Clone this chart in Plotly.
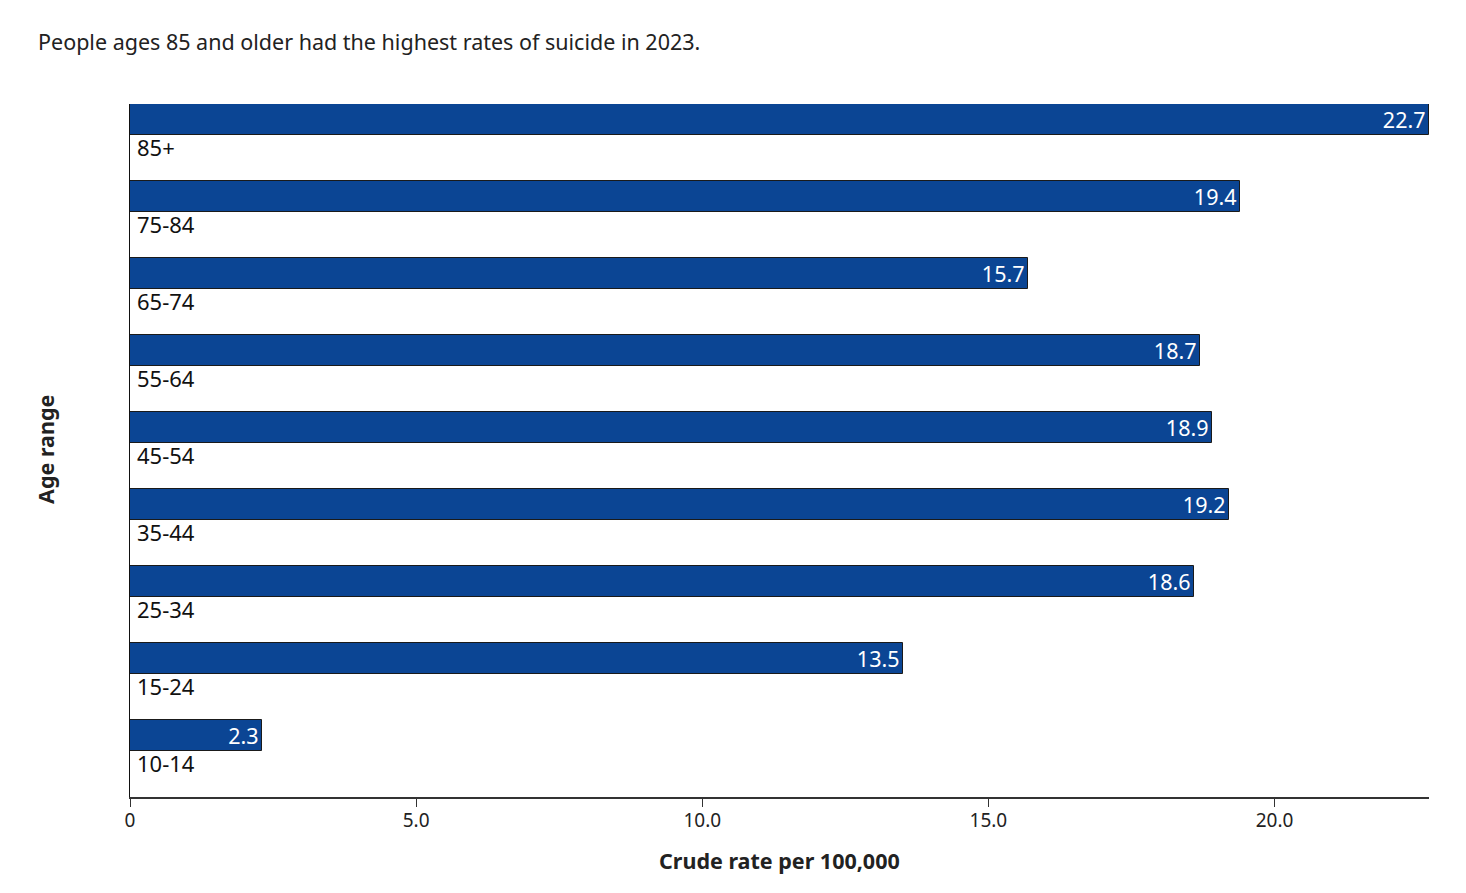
import plotly.graph_objects as go

ages = ["10-14", "15-24", "25-34", "35-44", "45-54", "55-64", "65-74", "75-84", "85+"]
rates = [2.3, 13.5, 18.6, 19.2, 18.9, 18.7, 15.7, 19.4, 22.7]
tick_vals = [0, 5, 10, 15, 20]
tick_text = ["0", "5.0", "10.0", "15.0", "20.0"]

title_text = "People ages 85 and older had the highest rates of suicide in 2023."
x_title = "Crude rate per 100,000"
y_title = "Age range"

FONT = "Noto Sans"
BAR_COLOR = "#0b4594"

W, H = 1466, 893
OFF = 8  # page body margin
# target plot area on screen: x 130..1429, y 104..797
L, T = 130 - OFF, 104 - OFF
R = W - 1429 + OFF
B = H - 797 + OFF
PW, PH = W - L - R, H - T - B


def px_x(px):
    return (px - OFF - L) / PW


def px_y(py):
    return (H - B - (py - OFF)) / PH


bar_w = 0.405
fig = go.Figure()
fig.add_trace(go.Bar(
    x=rates, y=ages, orientation="h",
    width=bar_w, offset=0.5 - bar_w,
    marker=dict(color=BAR_COLOR, line=dict(color="#1a1a1a", width=1)),
    text=[f"{v:.1f}" for v in rates],
    textposition="inside", insidetextanchor="end",
    constraintext="none",
    textfont=dict(family=FONT, size=21.5, color="white"),
    cliponaxis=False,
    hoverinfo="skip",
))

annotations = []
for a in ages:
    annotations.append(dict(
        x=0, y=a, xref="x", yref="y", text=a, showarrow=False,
        xanchor="left", yanchor="middle", xshift=5, yshift=-4,
        font=dict(family=FONT, size=22, color="#111"),
    ))

annotations.append(dict(
    xref="paper", yref="paper", x=px_x(36), y=px_y(41),
    xanchor="left", yanchor="middle", text=title_text, showarrow=False,
    font=dict(family=FONT, size=21.5, color="#222"),
))
annotations.append(dict(
    xref="paper", yref="paper", x=px_x(779), y=px_y(860),
    xanchor="center", yanchor="middle", text=f"<b>{x_title}</b>", showarrow=False,
    font=dict(family=FONT, size=21.5, color="#222"),
))
annotations.append(dict(
    xref="paper", yref="paper", x=px_x(45), y=px_y(450),
    xanchor="center", yanchor="middle", text=f"<b>{y_title}</b>", showarrow=False,
    textangle=-90,
    font=dict(family=FONT, size=21.5, color="#222"),
))

fig.update_layout(
    width=W, height=H,
    margin=dict(l=L, r=R, t=T, b=B, pad=0),
    paper_bgcolor="white", plot_bgcolor="white",
    showlegend=False,
    font=dict(family=FONT, color="#222"),
    annotations=annotations,
    bargap=0,
    xaxis=dict(
        range=[0, 22.7], tickvals=tick_vals, ticktext=tick_text,
        ticks="outside", ticklen=8, tickwidth=1, tickcolor="#333",
        ticklabelstandoff=-3,
        showline=True, linecolor="#333", linewidth=2,
        showgrid=False, zeroline=False,
        tickfont=dict(family=FONT, size=19, color="#222"),
        fixedrange=True,
    ),
    yaxis=dict(
        type="category", categoryorder="array", categoryarray=ages,
        range=[-0.5, 8.5], showticklabels=False, ticks="",
        showline=True, linecolor="#111", linewidth=1,
        showgrid=False, zeroline=False, fixedrange=True,
    ),
)

fig.write_html("out.html")
